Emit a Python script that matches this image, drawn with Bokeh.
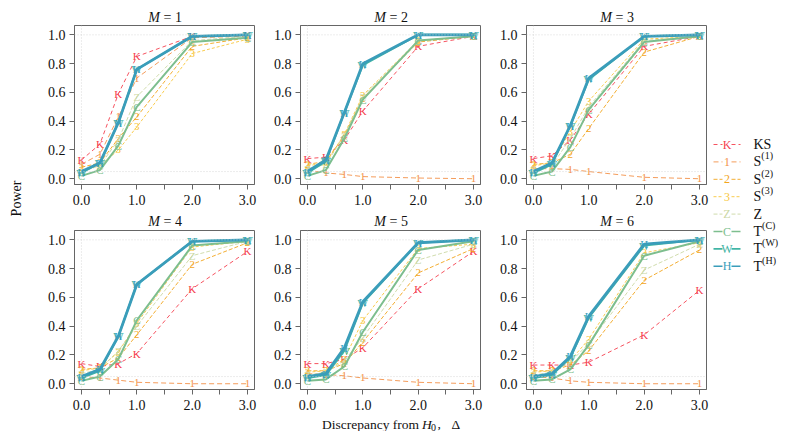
import math
from bokeh.plotting import figure
from bokeh.layouts import row, column
from bokeh.models import Range1d, FixedTicker, PrintfTickFormatter, Span
from bokeh.core.properties import value
from bokeh.embed import file_html
from bokeh.resources import INLINE

# ---------------- data ----------------
DELTA = [0, 1/3, 2/3, 1, 2, 3]
M_VALUES = [1, 2, 3, 4, 5, 6]

KS = [[0.13, 0.24, 0.59, 0.85, 0.99, 1.00],
      [0.14, 0.15, 0.27, 0.47, 0.92, 0.99],
      [0.14, 0.16, 0.27, 0.45, 0.92, 0.99],
      [0.14, 0.12, 0.14, 0.21, 0.66, 0.92],
      [0.14, 0.14, 0.17, 0.25, 0.66, 0.92],
      [0.13, 0.13, 0.13, 0.15, 0.34, 0.65]]
S1 = [[0.10, 0.17, 0.43, 0.70, 0.98, 0.99],
      [0.06, 0.04, 0.03, 0.015, 0.005, 0.0],
      [0.07, 0.07, 0.065, 0.05, 0.01, 0.0],
      [0.05, 0.04, 0.025, 0.01, 0.0, 0.0],
      [0.07, 0.065, 0.055, 0.04, 0.01, 0.0],
      [0.05, 0.04, 0.02, 0.01, 0.0, 0.0]]
S2 = [[0.08, 0.11, 0.28, 0.43, 0.92, 0.98],
      [0.10, 0.12, 0.30, 0.56, 0.95, 0.99],
      [0.10, 0.11, 0.17, 0.35, 0.88, 0.99],
      [0.10, 0.11, 0.18, 0.34, 0.83, 0.98],
      [0.09, 0.09, 0.14, 0.29, 0.77, 0.94],
      [0.09, 0.09, 0.13, 0.23, 0.72, 0.93]]
S3 = [[0.06, 0.09, 0.20, 0.36, 0.87, 0.97],
      [0.09, 0.11, 0.31, 0.58, 0.96, 0.99],
      [0.09, 0.11, 0.33, 0.54, 0.97, 0.99],
      [0.09, 0.11, 0.22, 0.42, 0.95, 0.99],
      [0.08, 0.09, 0.17, 0.44, 0.94, 0.97],
      [0.08, 0.09, 0.16, 0.31, 0.91, 0.98]]
Z = [[0.05, 0.09, 0.27, 0.57, 0.96, 0.99],
     [0.07, 0.10, 0.30, 0.57, 0.96, 0.99],
     [0.06, 0.09, 0.28, 0.50, 0.96, 0.99],
     [0.07, 0.10, 0.23, 0.40, 0.89, 0.99],
     [0.06, 0.08, 0.16, 0.32, 0.86, 0.97],
     [0.06, 0.08, 0.15, 0.28, 0.79, 0.97]]
TC = [[0.02, 0.06, 0.23, 0.50, 0.95, 0.98],
      [0.02, 0.06, 0.28, 0.55, 0.96, 0.99],
      [0.02, 0.05, 0.22, 0.48, 0.95, 0.99],
      [0.02, 0.05, 0.17, 0.44, 0.96, 0.99],
      [0.02, 0.03, 0.12, 0.36, 0.93, 0.99],
      [0.02, 0.03, 0.10, 0.27, 0.89, 0.99]]
TW = [[0.04, 0.11, 0.39, 0.76, 0.99, 1.00],
      [0.04, 0.12, 0.46, 0.79, 1.00, 1.00],
      [0.04, 0.10, 0.37, 0.69, 0.99, 1.00],
      [0.04, 0.09, 0.33, 0.69, 0.99, 1.00],
      [0.04, 0.06, 0.23, 0.56, 0.98, 1.00],
      [0.04, 0.06, 0.18, 0.46, 0.96, 1.00]]
TH = [[0.05, 0.11, 0.39, 0.76, 0.99, 1.00],
      [0.05, 0.13, 0.46, 0.80, 1.00, 1.00],
      [0.05, 0.11, 0.37, 0.70, 0.99, 1.00],
      [0.05, 0.10, 0.33, 0.69, 0.99, 1.00],
      [0.05, 0.07, 0.25, 0.57, 0.98, 1.00],
      [0.05, 0.07, 0.19, 0.47, 0.97, 1.00]]

LETTERS = ["K", "1", "2", "3", "Z", "C", "W", "H"]
LEG_BASE = ["KS", "S", "S", "S", "Z", "T", "T", "T"]
LEG_SUP = ["", "(1)", "(2)", "(3)", "", "(C)", "(W)", "(H)"]
SERIES_DATA = [KS, S1, S2, S3, Z, TC, TW, TH]

X_TICKS = [0, 0.5, 1, 1.5, 2, 2.5, 3]
X_LABELS = {0: "0.0", 0.5: "", 1: "1.0", 1.5: "", 2: "2.0", 2.5: "", 3: "3.0"}
Y_TICKS = [0, 0.2, 0.4, 0.6, 0.8, 1.0]

# ---------------- style ----------------
COLORS = ["#F5404E", "#F39148", "#F2A51C", "#F8C63A", "#CBD8A4", "#7DBE8E", "#40B4A4", "#3A9DBA"]
DASHES = ["4 3", "5 3", "4 2", "3 2", "4 2", "solid", "solid", "solid"]
WIDTHS = [0.9, 0.9, 0.9, 0.9, 0.9, 2.0, 2.0, 2.8]
FONT = "Liberation Serif"
FRAME = "#666666"
INK = "#111111"
XR = (-0.125, 3.125)
YR = (-0.04, 1.065)

FRAME_W, FRAME_H = 180, 159
COLB = [(36, 14), (32, 14), (32, 6)]      # (left, right) border per column
ROW_TOP, ROW_BOTTOM = 1, 28
PANEL_H = ROW_TOP + FRAME_H + ROW_BOTTOM
T1_H, T2_H, XL_H = 24, 17, 14


def strip(width, height):
    f = figure(width=width, height=height, x_range=Range1d(0, width), y_range=Range1d(0, height),
               output_backend="svg", toolbar_location=None, title=None,
               x_axis_location=None, y_axis_location=None,
               min_border_left=0, min_border_right=0, min_border_top=0, min_border_bottom=0)
    f.grid.visible = False
    f.outline_line_color = None
    return f


def txt(f, x, y, s, size="14px", style="normal", align="left", baseline="alphabetic",
        color=INK, angle=0):
    f.text([x], [y], text=[s], angle=angle, text_color=color,
           text_font=value(FONT), text_font_size=size, text_font_style=style,
           text_align=align, text_baseline=baseline)


def make_panel(k, bl, br):
    p = figure(width=bl + FRAME_W + br, height=PANEL_H,
               x_range=Range1d(*XR), y_range=Range1d(*YR),
               output_backend="svg", toolbar_location=None, title=None,
               min_border_left=bl, min_border_right=br,
               min_border_top=ROW_TOP, min_border_bottom=ROW_BOTTOM)
    p.grid.visible = False
    p.outline_line_color = FRAME
    p.outline_line_width = 1
    p.xaxis.ticker = FixedTicker(ticks=X_TICKS)
    p.xaxis.major_label_overrides = X_LABELS
    p.yaxis.ticker = FixedTicker(ticks=Y_TICKS)
    p.yaxis.formatter = PrintfTickFormatter(format="%.1f")
    for ax in p.axis:
        ax.axis_line_color = FRAME
        ax.major_tick_line_color = FRAME
        ax.minor_tick_line_color = None
        ax.major_tick_out = 5
        ax.major_tick_in = 0
        ax.major_label_text_font = FONT
        ax.major_label_text_font_size = "14px"
        ax.major_label_text_color = INK
    p.xaxis.major_label_standoff = 5
    p.yaxis.major_label_standoff = 4
    for loc, dim in [(0.05, "width"), (1.0, "width"), (0.0, "height")]:
        p.add_layout(Span(location=loc, dimension=dim, line_color="#cfcfcf",
                          line_dash="1 2", line_width=0.8))
    for s in range(len(LETTERS)):
        ys = SERIES_DATA[s][k]
        p.line(DELTA, ys, line_color=COLORS[s], line_width=WIDTHS[s], line_dash=DASHES[s])
        p.text(DELTA, ys, text=[LETTERS[s]] * len(DELTA), text_color=COLORS[s],
               text_font=value(FONT), text_font_size="11px",
               text_align="center", text_baseline="middle")
    return p


panels = [make_panel(k, *COLB[k % 3]) for k in range(6)]
GRID_W = sum(bl + FRAME_W + br for bl, br in COLB)          # 674
CENTERS = []
acc = 0
for bl, br in COLB:
    CENTERS.append(acc + bl + FRAME_W / 2)
    acc += bl + FRAME_W + br


def title_strip(height, ymid, ks):
    f = strip(GRID_W, height)
    for c, k in zip(CENTERS, ks):
        txt(f, c - 4.5, ymid, "M", style="italic", align="right", baseline="middle")
        txt(f, c - 1.0, ymid, "= %d" % M_VALUES[k], align="left", baseline="middle")
    return f


t1 = title_strip(T1_H, 7.5, [0, 1, 2])
t2 = title_strip(T2_H, 8, [3, 4, 5])

# x-axis label strip (centred under the middle panel)
xs = strip(GRID_W, XL_H)
xc = CENTERS[1]
txt(xs, xc + 28.5, 7.5, "Discrepancy from", size="13.5px", align="right", baseline="middle")
txt(xs, xc + 31.5, 7.5, "H", size="13.5px", style="italic", baseline="middle")
txt(xs, xc + 40.5, 4.5, "0", size="10px", baseline="middle")
txt(xs, xc + 47.0, 7.5, ",", size="13.5px", baseline="middle")
txt(xs, xc + 61.0, 7.5, "\u0394", size="13.5px", baseline="middle")

TOTAL_H = T1_H + PANEL_H + T2_H + PANEL_H + XL_H

# y-axis label strip
ylab = strip(38, TOTAL_H)
txt(ylab, 16, TOTAL_H - 198, "Power", align="center", baseline="middle", angle=math.pi / 2)

# legend strip
leg = strip(69, TOTAL_H)
for s in range(len(LETTERS)):
    yy = TOTAL_H - (144 + 17.4 * s)
    lw = min(WIDTHS[s], 1.6)
    leg.line([1, 10], [yy, yy], line_color=COLORS[s], line_width=lw, line_dash=DASHES[s])
    leg.line([19, 28], [yy, yy], line_color=COLORS[s], line_width=lw, line_dash=DASHES[s])
    txt(leg, 14.5, yy, LETTERS[s], size="12px", align="center", baseline="middle", color=COLORS[s])
    txt(leg, 41, yy, LEG_BASE[s], align="left", baseline="middle")
    if LEG_SUP[s]:
        xsup = 41 + (7.8 if LEG_BASE[s] == "S" else 8.6)
        txt(leg, xsup, yy + 6, LEG_SUP[s], size="10px", align="left", baseline="middle")

grid = column(t1, row(panels[0], panels[1], panels[2]),
              t2, row(panels[3], panels[4], panels[5]), xs)
layout = row(ylab, grid, leg)

open("out.html", "w").write(file_html(layout, INLINE))
